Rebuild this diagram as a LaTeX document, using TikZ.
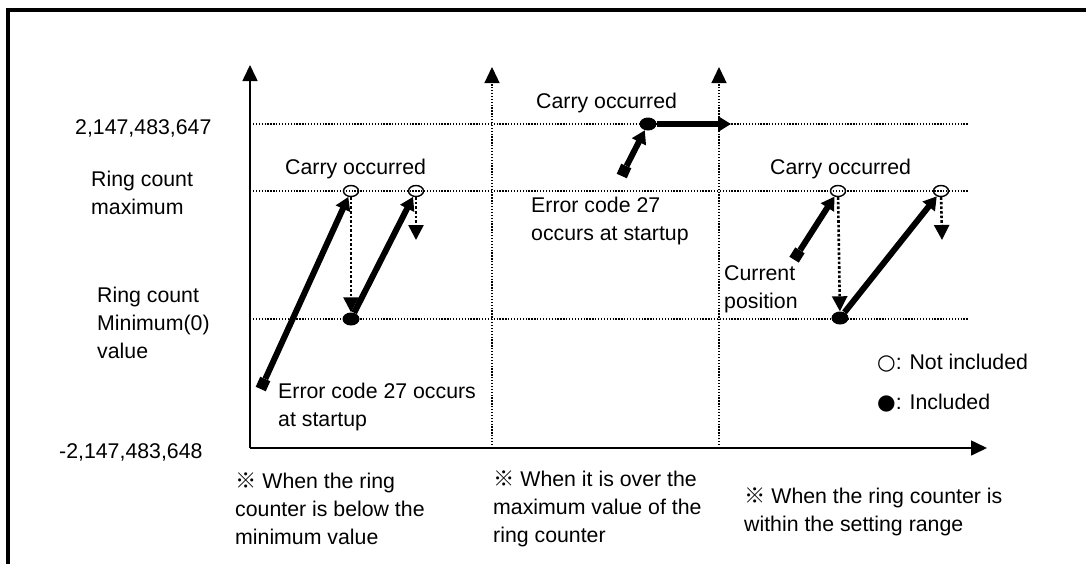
\documentclass[tikz,border=0pt]{standalone}
\usepackage{fontspec}
\setmainfont{Liberation Sans}
\newfontfamily\cjk{Noto Sans CJK KR}
\newfontfamily\dejavu{DejaVu Sans}
\usetikzlibrary{arrows.meta,shapes.geometric}
\tikzset{
  txt/.style={font=\fontsize{21.3}{28}\selectfont, inner sep=0pt, align=left, anchor=west},
  axis/.style={line width=1.6pt, -{Triangle[width=15pt,length=16pt]}},
  vdot/.style={line width=1.3pt, dash pattern=on 1.3pt off 1.6pt, -{Triangle[width=15pt,length=16pt]}},
  hdot/.style={line width=1.3pt, dash pattern=on 1.3pt off 1.6pt},
  thickarr/.style={line width=6pt, -{Triangle[width=15pt,length=13pt]}},
  thickline/.style={line width=6pt},
  dotarr/.style={line width=2.6pt, dash pattern=on 2.6pt off 2pt, -{Triangle[width=15pt,length=15pt]}},
  opencirc/.style={ellipse, draw, line width=1.4pt, minimum width=15pt, minimum height=11pt, inner sep=0pt},
  fullcirc/.style={ellipse, fill, minimum width=17pt, minimum height=13pt, inner sep=0pt},
  sq/.style={rectangle, fill, minimum size=11pt, inner sep=0pt},
}
\begin{document}
\begin{tikzpicture}[x=1pt,y=-1pt]
\useasboundingbox (0,0) rectangle (1086,563);
% frame
\draw[line width=3.6pt] (8,565) -- (8,10) -- (1090,10);
% axes
\coordinate (O) at (250,448);
\coordinate (Ytop) at (250,65);
\coordinate (Xend) at (987,448);
\coordinate (V1b) at (492,448);
\coordinate (V1t) at (492,67);
\coordinate (V2b) at (719,448);
\coordinate (V2t) at (719,67);
% horizontal dotted levels
\coordinate (L1a) at (250,124); \coordinate (L1b) at (968,124);
\coordinate (L2a) at (250,191); \coordinate (L2b) at (968,191);
\coordinate (L3a) at (250,319); \coordinate (L3b) at (968,319);
\draw[hdot] (L1a) -- (L1b);
\draw[hdot] (L2a) -- (L2b);
\draw[hdot] (L3a) -- (L3b);
\draw[vdot] (V1b) -- (V1t);
\draw[vdot] (V2b) -- (V2t);
\draw[axis] (O) -- (Ytop);
\draw[axis] (O) -- (Xend);
% left labels
\node[txt] (tmax) at (75,128) {2,147,483,647};
\node[txt] (trmax) at (91,193) {Ring count\\maximum};
\node[txt] (trmin) at (97,323) {Ring count\\Minimum(0)\\value};
\node[txt] (tmin) at (59,452) {-2,147,483,648};
% section 1
\node[sq, rotate=66] (S1) at (263,384) {};
\node[opencirc] (C1) at (351,191) {};
\node[fullcirc] (E1) at (351,319) {};
\node[opencirc] (C2) at (416,191) {};
\coordinate (D2) at (416,240);
\draw[thickarr] (S1) -- (C1);
\draw[dotarr] (C1) -- (E1);
\draw[thickarr] (E1) -- (C2);
\draw[dotarr] (C2) -- (D2);
\node[txt] (car1) at (285,169) {Carry occurred};
\node[txt] (err1) at (278,407) {Error code 27 occurs\\at startup};
% section 2
\node[sq, rotate=66] (S2) at (624,171) {};
\node[fullcirc] (E2) at (648,124) {};
\coordinate (T2) at (731,124);
\draw[thickarr] (S2) -- (E2);
\draw[thickarr] (E2) -- (T2);
\node[txt] (car2) at (536,103) {Carry occurred};
\node[txt] (err2) at (531,221) {Error code 27\\occurs at startup};
% section 3
\node[sq, rotate=58] (S3) at (797,255) {};
\node[opencirc] (C3) at (838,191) {};
\node[fullcirc] (E3) at (840,318) {};
\node[opencirc] (C4) at (941,191) {};
\coordinate (D4) at (942,240);
\draw[thickarr] (S3) -- (C3);
\draw[dotarr] (C3) -- (E3);
\draw[thickarr] (E3) -- (C4);
\draw[dotarr] (C4) -- (D4);
\node[txt] (car3) at (770,169) {Carry occurred};
\node[txt] (cur) at (724,289) {Current\\position};
% legend
\node[txt] (leg1) at (877,363) {{\dejavu ○}: Not included};
\node[txt] (leg2) at (877,403) {{\dejavu ●}: Included};
% bottom notes
\node[txt] (n1) at (235,509) {{\cjk ※} When the ring\\counter is below the\\minimum value};
\node[txt] (n2) at (493,509) {{\cjk ※} When it is over the\\maximum value of the\\ring counter};
\node[txt] (n3) at (744,512) {{\cjk ※} When the ring counter is\\within the setting range};
\end{tikzpicture}
\end{document}
